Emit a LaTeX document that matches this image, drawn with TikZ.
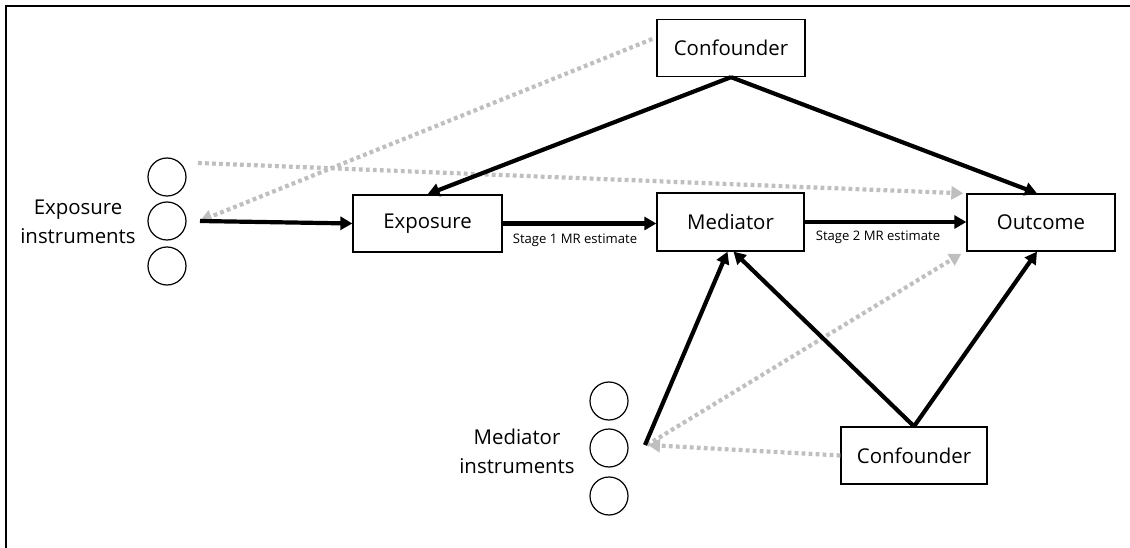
\documentclass[tikz,border=0pt]{standalone}
\usepackage{fontspec}
\setmainfont{Open Sans}
\usetikzlibrary{arrows.meta}
\definecolor{pathgrey}{HTML}{BFBFBF}
\tikzset{
  box/.style={draw, line width=1.3pt, rectangle, inner sep=0pt,
    minimum width=148pt, minimum height=57pt, font=\fontsize{20.4}{26}\selectfont},
  inst/.style={draw, line width=1.2pt, circle, inner sep=0pt, minimum size=38pt},
  grouplabel/.style={align=center, font=\fontsize{20.4}{29}\selectfont},
  stagelabel/.style={font=\fontsize{13.1}{16}\selectfont},
  causal/.style={line width=4.2pt, -{Triangle[length=12pt,width=13pt]}},
  bias/.style={line width=4.2pt, pathgrey, dash pattern=on 3.8pt off 3.2pt,
    -{Triangle[length=12pt,width=13pt]}},
}
\begin{document}
\begin{tikzpicture}[x=1pt,y=-1pt]
\useasboundingbox (0,0) rectangle (1130,548);
% frame edges
\draw[line width=2pt] (6,548) -- (6,6) -- (1130,6);

% main boxes
\node[box] (conf1) at (731,48) {Confounder};
\node[box, minimum width=149pt] (expo) at (427.5,223.5) {Exposure};
\node[box, minimum width=147pt, minimum height=58pt] (med) at (730.5,222) {Mediator};
\node[box] (out) at (1041,222.5) {Outcome};
\node[box, minimum width=146pt] (conf2) at (914,455.5) {Confounder};

% exposure instruments
\node[inst] (ei1) at (167,177) {};
\node[inst] (ei2) at (167,221) {};
\node[inst] (ei3) at (167,266) {};
\node[grouplabel] (eilab) at (78,222) {Exposure\\instruments};
\coordinate (eiR) at (200,221);
\coordinate (eiT) at (198,163);

% mediator instruments
\node[inst] (mi1) at (609,401) {};
\node[inst] (mi2) at (609,448) {};
\node[inst] (mi3) at (609,496) {};
\node[grouplabel] (milab) at (517,451) {Mediator\\instruments};
\coordinate (miR) at (645,445);

% stage labels
\node[stagelabel] (s1) at (575,240) {Stage 1 MR estimate};
\node[stagelabel] (s2) at (878,237) {Stage 2 MR estimate};

% violated-assumption paths (grey, dotted)
\draw[bias] ([xshift=-4pt,yshift=9pt]conf1.west) -- (eiR);
\draw[bias] (eiT) -- ([xshift=-3pt]out.north west);
\draw[bias] ([xshift=2pt]miR) -- ([xshift=-5pt,yshift=-2pt]out.south west);
\draw[bias] (conf2.west) -- ([xshift=3pt]miR);

% causal paths
\draw[causal] (eiR) -- (expo.west);
\draw[causal] (expo.east) -- (med.west |- expo.east);
\draw[causal] (med.east) -- (out.west |- med.east);
\draw[causal] (conf1.south) -- (expo.north);
\draw[causal] (conf1.south) -- ([xshift=-4pt]out.north);
\draw[causal] (miR) -- ([xshift=-3pt]med.south);
\draw[causal] (conf2.north) -- ([xshift=3pt]med.south);
\draw[causal] (conf2.north) -- ([xshift=-4pt]out.south);
\end{tikzpicture}
\end{document}
